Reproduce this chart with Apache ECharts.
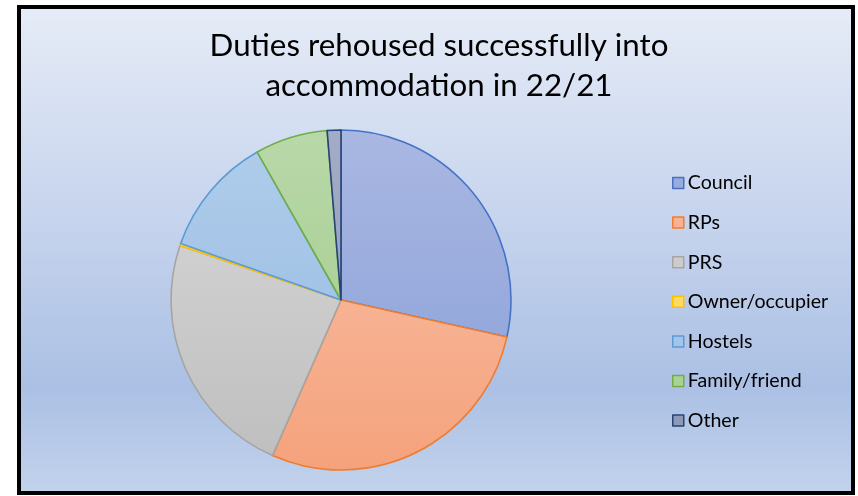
<!DOCTYPE html>
<html>
<head>
<meta charset="utf-8">
<script src="https://cdn.jsdelivr.net/npm/echarts@6/dist/echarts.min.js"></script>
<style>
html,body{margin:0;padding:0;background:#fff;}
#chart{width:858px;height:496px;}
</style>
</head>
<body>
<div id="chart"></div>
<script>
var categories = ['Council', 'RPs', 'PRS', 'Owner/occupier', 'Hostels', 'Family/friend', 'Other'];
var values = [28.5, 28.1, 23.6, 0.2, 11.4, 6.9, 1.3];
var titleText = 'Duties rehoused successfully into\naccommodation in 22/21';

var borderColors = ['#4472c4', '#ed7d31', '#a5a5a5', '#ffc000', '#5b9bd5', '#70ad47', '#264478'];
var fillTop = ['#a9b7e2', '#f9c3ab', '#d9d9d9', '#ffe08a', '#b0cdea', '#b9d8a9', '#a3acc6'];
var fillBottom = ['#889fd8', '#f5a27c', '#bebebe', '#ffd050', '#95b9e4', '#9fcb86', '#8e99b8'];
var legendFill = ['#9aabdd', '#f7b295', '#cccccc', '#ffd966', '#a4c5ea', '#abd296', '#8f99b5'];

var cx = 341, cy = 300, r = 170;

var chart = echarts.init(document.getElementById('chart'), null, {renderer: 'canvas'});

var pieData = categories.map(function (name, i) {
  return {
    name: name,
    value: values[i],
    itemStyle: {
      color: {
        type: 'linear', global: true,
        x: 0, y: cy - r, x2: 0, y2: cy + r,
        colorStops: [{offset: 0, color: fillTop[i]}, {offset: 1, color: fillBottom[i]}]
      },
      borderColor: borderColors[i],
      borderWidth: 1.6
    }
  };
});

var legendData = categories.map(function (name, i) {
  return {
    name: name,
    itemStyle: {color: legendFill[i], borderColor: borderColors[i], borderWidth: 1.5}
  };
});

chart.setOption({
  animation: false,
  graphic: [{
    type: 'rect',
    z: -10,
    silent: true,
    shape: {x: 19, y: 7, width: 834, height: 486},
    style: {
      fill: {
        type: 'linear', x: 0, y: 0, x2: 0, y2: 1,
        colorStops: [
          {offset: 0, color: '#e6ecf7'},
          {offset: 0.45, color: '#c5d3ed'},
          {offset: 0.78, color: '#abc0e4'},
          {offset: 1, color: '#c3d3ec'}
        ]
      },
      stroke: '#000',
      lineWidth: 4
    }
  }],
  title: {
    text: titleText,
    left: 434,
    textAlign: 'center',
    top: 21,
    textStyle: {
      fontFamily: 'Lato, "Open Sans", sans-serif',
      fontSize: 31.3,
      fontWeight: 'normal',
      color: '#000',
      lineHeight: 40
    }
  },
  legend: {
    orient: 'vertical',
    left: 667,
    top: 168,
    itemWidth: 11,
    itemHeight: 11,
    itemGap: 19.6,
    icon: 'rect',
    selectedMode: false,
    data: legendData,
    textStyle: {
      fontFamily: 'Lato, "Open Sans", sans-serif',
      fontSize: 19.6,
      color: '#000',
      padding: [0, 0, 0, -1]
    }
  },
  series: [{
    type: 'pie',
    center: [cx, cy],
    radius: [0, r],
    startAngle: 90,
    clockwise: true,
    label: {show: false},
    labelLine: {show: false},
    emphasis: {disabled: true},
    data: pieData
  }]
});
</script>
</body>
</html>
